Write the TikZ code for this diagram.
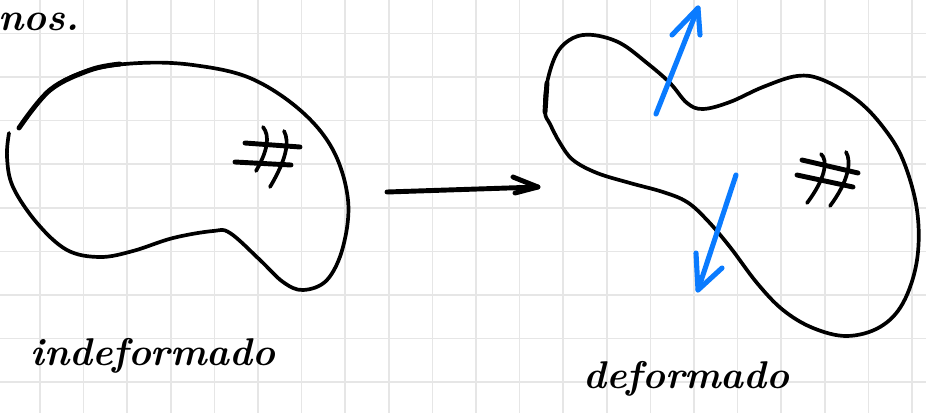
\documentclass[tikz,border=0pt]{standalone}
\usepackage{tikz}
\definecolor{gridgrey}{HTML}{E6E6E6}
\definecolor{penblue}{HTML}{0A7BFF}
\tikzset{
  gridline/.style={draw=gridgrey, line width=0.85pt},
  pen/.style={draw=black, line width=2.1pt, line cap=round, line join=round},
  thickpen/.style={draw=black, line width=2.8pt, line cap=round, line join=round},
  bluepen/.style={draw=penblue, line width=2.9pt, line cap=round, line join=round},
  hand/.style={font=\bfseries\itshape\fontsize{22}{22}\selectfont, inner sep=0pt, anchor=base west}
}
\begin{document}
\begin{tikzpicture}[x=0.02cm, y=-0.02cm]
\useasboundingbox (0,0) rectangle (926,413);
\fill[white] (0,0) rectangle (926,413);

% squared paper
\foreach \k in {0,...,20} \draw[gridline] ({40+43.6*\k},0) -- ({40+43.6*\k},413);
\foreach \k in {0,...,8} \draw[gridline] (0,{33.4+43.6*\k}) -- (926,{33.4+43.6*\k});

% heading fragment
\node[hand] (nos) at (-2,30) {nos.};

% undeformed body
\draw[pen] plot[smooth, tension=0.6] coordinates {
  (19,128) (50,90) (90,70) (140,63) (193,65) (250,78) (300,110) (333,150)
  (348,200) (343,247) (327,280) (303,290) (283,282) (260,260) (230,233)
  (213,231) (173,238) (133,251) (100,257) (67,250) (37,223) (13,187)
  (7,157) (9,133)};
\draw[thickpen] plot[smooth, tension=0.6] coordinates {
  (19,128) (50,90) (90,70) (120,64)};
% point mark inside the undeformed body
\draw[thickpen] (245,143) -- (300,147);
\draw[thickpen] (235,162) -- (291,165);
\draw[pen] (263,127) .. controls (270,136) and (268,150) .. (256,171);
\draw[pen] (284,131) .. controls (290,142) and (286,160) .. (270,187);

% mapping arrow
\draw[thickpen] (387,192) -- (538,187);
\draw[thickpen] (513,177) -- (538,187) -- (515,193);

% deformed body
\draw[pen] plot[smooth cycle, tension=0.6] coordinates {
  (545,112) (547,83) (557,53) (573,38) (593,35) (620,43) (647,63) (670,83)
  (687,103) (703,109) (730,102) (763,87) (797,76) (823,80) (857,100)
  (883,127) (903,160) (917,210) (917,260) (903,303) (880,327) (847,336)
  (813,328) (783,310) (757,283) (730,247) (707,220) (687,202) (663,192)
  (630,183) (597,173) (573,160) (560,143) (550,124)};
\draw[thickpen] (545,112) -- (547,83);
% point mark inside the deformed body
\draw[thickpen] (802,160) -- (858,173);
\draw[thickpen] (797,175) -- (853,187);
\draw[pen] (821,154) .. controls (828,160) and (826,178) .. (807,203);
\draw[pen] (846,152) .. controls (852,162) and (848,182) .. (830,206);

% displacement arrows
\draw[bluepen] (656,114) -- (698,8);
\draw[bluepen] (672,35) -- (698,8) -- (700,35);
\draw[bluepen] (736,175) -- (698,290);
\draw[bluepen] (696,253) -- (698,290) -- (722,268);

% labels
\node[hand] (undeformed) at (30,365) {indeformado};
\node[hand] (deformed) at (583,388) {deformado};
\end{tikzpicture}
\end{document}
